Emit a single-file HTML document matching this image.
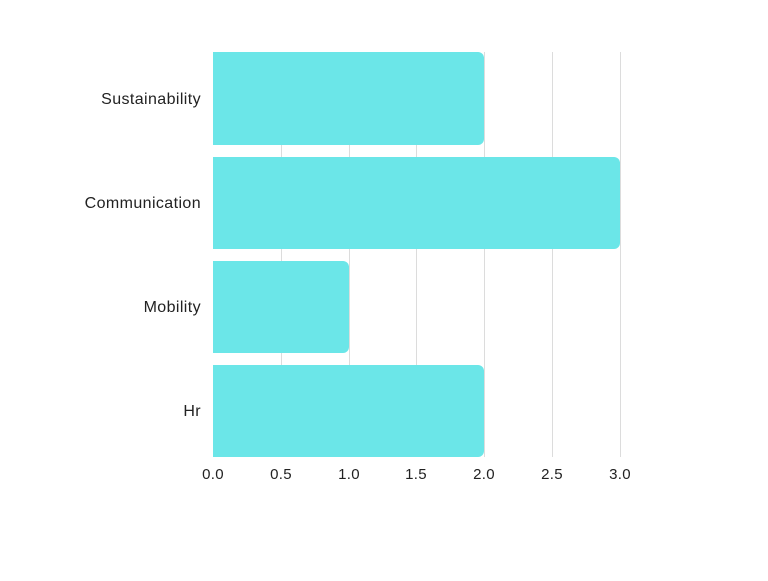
<!DOCTYPE html>
<html><head><meta charset="utf-8"><style>body{margin:0;background:#fff}</style></head><body>
<svg width="768" height="576" xmlns="http://www.w3.org/2000/svg" font-family="Liberation Sans, sans-serif" font-size="15" fill="#222">
<g stroke="#dcdcdc" stroke-width="1">
<line x1="281.5" y1="52" x2="281.5" y2="457"/>
<line x1="349.5" y1="52" x2="349.5" y2="457"/>
<line x1="416.5" y1="52" x2="416.5" y2="457"/>
<line x1="484.5" y1="52" x2="484.5" y2="457"/>
<line x1="552.5" y1="52" x2="552.5" y2="457"/>
<line x1="620.5" y1="52" x2="620.5" y2="457"/>
</g>
<g fill="#6be6e8">
<path d="M213 52 H478 a6 6 0 0 1 6 6 V139 a6 6 0 0 1 -6 6 H213Z"/>
<path d="M213 157 H614 a6 6 0 0 1 6 6 V243 a6 6 0 0 1 -6 6 H213Z"/>
<path d="M213 261 H343 a6 6 0 0 1 6 6 V347 a6 6 0 0 1 -6 6 H213Z"/>
<path d="M213 365 H478 a6 6 0 0 1 6 6 V451 a6 6 0 0 1 -6 6 H213Z"/>
</g>
<g text-anchor="end" font-size="16" letter-spacing="0.4">
<text x="201" y="104">Sustainability</text>
<text x="201" y="208">Communication</text>
<text x="201" y="312">Mobility</text>
<text x="201" y="416">Hr</text>
</g>
<g text-anchor="middle" letter-spacing="0.3">
<text x="213" y="479">0.0</text>
<text x="281" y="479">0.5</text>
<text x="349" y="479">1.0</text>
<text x="416" y="479">1.5</text>
<text x="484" y="479">2.0</text>
<text x="552" y="479">2.5</text>
<text x="620" y="479">3.0</text>
</g>
</svg>
</body></html>
